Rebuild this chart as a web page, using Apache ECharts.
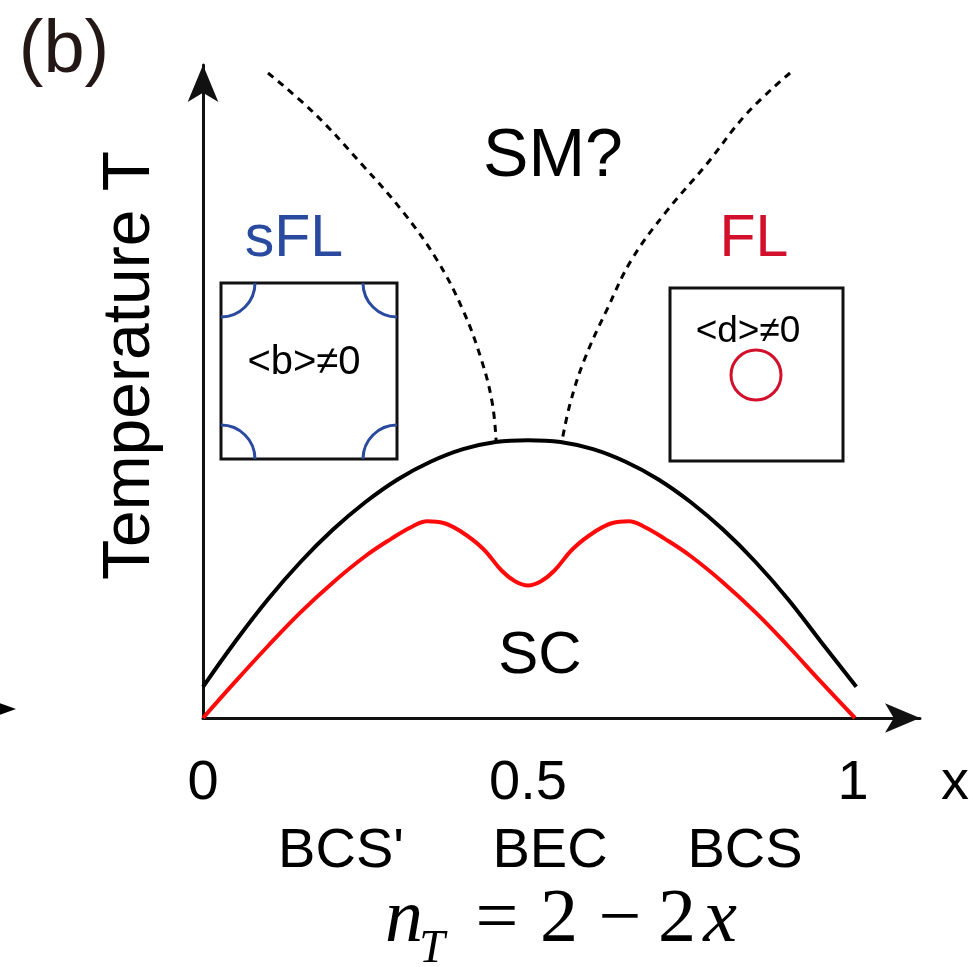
<!DOCTYPE html>
<html>
<head>
<meta charset="utf-8">
<script src="https://cdn.jsdelivr.net/npm/echarts@6/dist/echarts.min.js"></script>
<style>
html,body{margin:0;padding:0;background:#fff;}
#chart{width:973px;height:967px;}
</style>
</head>
<body>
<div id="chart"></div>
<script>
// ---- data (x = doping, T = temperature, arbitrary units) ----
const domeX = [0, 0.05, 0.1, 0.15, 0.2, 0.25, 0.3, 0.35, 0.4, 0.45, 0.5, 0.55, 0.6, 0.65, 0.7, 0.75, 0.8, 0.85, 0.9, 0.95, 1.005];
const domeT = [0.052, 0.128, 0.198, 0.260, 0.314, 0.360, 0.398, 0.427, 0.448, 0.460, 0.463, 0.460, 0.448, 0.427, 0.398, 0.360, 0.314, 0.260, 0.198, 0.128, 0.052];

const tcX = [0, 0.05, 0.1, 0.15, 0.2, 0.25, 0.29, 0.32, 0.345, 0.37, 0.395, 0.43, 0.46, 0.48, 0.5, 0.52, 0.54, 0.57, 0.605, 0.63, 0.655, 0.68, 0.71, 0.75, 0.8, 0.85, 0.9, 0.95, 1.003];
const tcT = [0, 0.061, 0.120, 0.176, 0.226, 0.270, 0.299, 0.318, 0.328, 0.325, 0.312, 0.283, 0.245, 0.228, 0.221, 0.228, 0.245, 0.283, 0.312, 0.325, 0.328, 0.318, 0.299, 0.270, 0.226, 0.176, 0.120, 0.061, 0];

const leftDashX = [0.100, 0.171, 0.245, 0.308, 0.359, 0.399, 0.428, 0.445, 0.451];
const leftDashT = [1.075, 1.008, 0.922, 0.843, 0.765, 0.682, 0.598, 0.525, 0.460];
const rightDashX = [0.903, 0.837, 0.774, 0.712, 0.660, 0.622, 0.587, 0.565, 0.552];
const rightDashT = [1.075, 1.008, 0.922, 0.843, 0.765, 0.682, 0.598, 0.525, 0.460];

const xTickValues = [0, 0.5, 1];
const xTickLabels = ['0', '0.5', '1'];
const regimeLabels = ["BCS'", 'BEC', 'BCS'];

function pairs(xs, ys) { return xs.map((x, i) => [x, ys[i]]); }

const FONT = '"Liberation Sans", Arial, Helvetica, sans-serif';
const SERIF = '"Liberation Serif", "Times New Roman", serif';
const BLUE = '#2a4aa0';
const CRIMSON = '#d3102c';

const chart = echarts.init(document.getElementById('chart'), null, {renderer: 'canvas'});

function txt(text, x, y, size, color, extra) {
  return {
    type: 'text', x: x, y: y, silent: true,
    style: Object.assign({text: text, fontSize: size, fontFamily: FONT, fill: color || '#000',
      align: 'center', verticalAlign: 'middle'}, extra || {})
  };
}
function arc(cx, cy, r, a0, a1) {
  return {type: 'arc', silent: true, shape: {cx: cx, cy: cy, r: r, startAngle: a0, endAngle: a1, clockwise: true},
    style: {stroke: BLUE, lineWidth: 3, fill: null}};
}
const P = Math.PI;
const boxL = {x: 221, y: 283, w: 176, h: 176};
const boxR = {x: 670, y: 288, w: 173, h: 173};
const math = {fontFamily: SERIF};
const mathI = {fontFamily: SERIF, fontStyle: 'italic'};

const option = {
  animation: false,
  backgroundColor: '#fff',
  grid: {left: 203, right: 53, top: 65, bottom: 249, containLabel: false},
  xAxis: {
    type: 'value', min: 0, max: 1.103,
    axisLine: {show: true, symbol: ['none', 'arrow'], symbolSize: [22, 35],
      lineStyle: {color: '#111', width: 3}},
    axisTick: {show: false},
    splitLine: {show: false},
    axisLabel: {
      show: true, customValues: xTickValues, margin: 38,
      fontSize: 56, fontFamily: FONT, color: '#000',
      formatter: function (v) { const i = xTickValues.indexOf(v); return i >= 0 ? xTickLabels[i] : ''; }
    }
  },
  yAxis: {
    type: 'value', min: 0, max: 1.0883,
    name: 'Temperature T', nameLocation: 'middle', nameRotate: 90, nameGap: 39,
    nameTextStyle: {fontSize: 66, fontFamily: FONT, color: '#000', padding: [0, 0, 0, 52]},
    axisLine: {show: true, symbol: ['none', 'arrow'], symbolSize: [23, 37],
      lineStyle: {color: '#111', width: 3}},
    axisTick: {show: false},
    splitLine: {show: false},
    axisLabel: {show: false}
  },
  series: [
    {type: 'line', name: 'dome', data: pairs(domeX, domeT), smooth: 0.4, showSymbol: false, clip: false,
      lineStyle: {color: '#000', width: 4}, z: 3},
    {type: 'line', name: 'Tc', data: pairs(tcX, tcT), smooth: 0.4, showSymbol: false, clip: false,
      lineStyle: {color: '#ff0a0a', width: 4}, z: 4},
    {type: 'line', name: 'left', data: pairs(leftDashX, leftDashT), smooth: 0.4, showSymbol: false, clip: false,
      lineStyle: {color: '#000', width: 3, type: [7, 6]}, z: 2},
    {type: 'line', name: 'right', data: pairs(rightDashX, rightDashT), smooth: 0.4, showSymbol: false, clip: false,
      lineStyle: {color: '#000', width: 3, type: [7, 6]}, z: 2}
  ],
  graphic: [
    txt('(b)', 64, 52, 74, '#231815'),
    txt('SM?', 553, 157, 68, '#000'),
    txt('sFL', 294, 240, 59, BLUE),
    txt('FL', 754, 240, 59, CRIMSON),
    txt('SC', 540, 656, 60, '#000'),
    txt('x', 955, 784, 56, '#000'),
    txt(regimeLabels[0], 341, 852, 56, '#000'),
    txt(regimeLabels[1], 550, 852, 56, '#000'),
    txt(regimeLabels[2], 745, 852, 56, '#000'),
    // formula n_T = 2 - 2x
    txt('n', 404, 921, 76, '#000', mathI),
    txt('T', 432, 950, 46, '#000', mathI),
    txt('=', 497, 921, 76, '#000', math),
    txt('2', 559, 921, 76, '#000', math),
    txt('\u2212', 620, 921, 76, '#000', math),
    txt('2', 677, 921, 76, '#000', math),
    txt('x', 720, 921, 76, '#000', mathI),
    // sFL inset
    {type: 'rect', silent: true, shape: {x: boxL.x, y: boxL.y, width: boxL.w, height: boxL.h},
      style: {stroke: '#111', lineWidth: 3, fill: '#fff'}, z: 10},
    Object.assign(arc(boxL.x, boxL.y, 34, 0, P / 2), {z: 11}),
    Object.assign(arc(boxL.x + boxL.w, boxL.y, 34, P / 2, P), {z: 11}),
    Object.assign(arc(boxL.x + boxL.w, boxL.y + boxL.h, 34, P, 1.5 * P), {z: 11}),
    Object.assign(arc(boxL.x, boxL.y + boxL.h, 34, 1.5 * P, 2 * P), {z: 11}),
    Object.assign(txt('<b>\u22600', 304, 363, 40, '#000'), {z: 11}),
    // FL inset
    {type: 'rect', silent: true, shape: {x: boxR.x, y: boxR.y, width: boxR.w, height: boxR.h},
      style: {stroke: '#111', lineWidth: 3, fill: '#fff'}, z: 10},
    Object.assign(txt('<d>\u22600', 748, 332, 37, '#000'), {z: 11}),
    {type: 'circle', silent: true, shape: {cx: 756, cy: 375, r: 25},
      style: {stroke: CRIMSON, lineWidth: 3, fill: null}, z: 11},
    // fragment of neighbouring panel's arrow at left edge
    {type: 'polygon', silent: true, shape: {points: [[-6, 701], [16, 709], [-6, 717]]}, style: {fill: '#000'}}
  ]
};
chart.setOption(option);
</script>
</body>
</html>
